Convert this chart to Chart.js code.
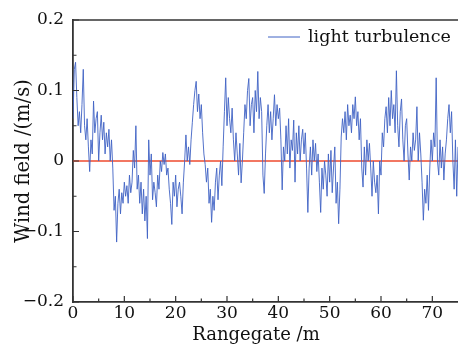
<!DOCTYPE html>
<html>
<head>
<meta charset="utf-8">
<script src="https://cdn.jsdelivr.net/npm/chart.js@4"></script>
<style>
html, body { margin: 0; padding: 0; background: #fff; }
#wrap { width: 458px; height: 346px; }
</style>
</head>
<body>
<div id="wrap"><canvas id="c"></canvas></div>
<script>
// Rangegate sampling (m) and wind field (m/s)
const step = 0.25;
const windField = [
  0.06, 0.13, 0.14, 0.09,   0.05, 0.07, 0.04, 0.08,   0.13, 0.05, 0.03, 0.06,
  0.02, -0.015, 0.03, 0.01, 0.085, 0.04, 0.06, 0.07,  0.0, 0.04, 0.065, 0.03,
  0.055, 0.01, 0.04, 0.02,  0.045, 0.0, 0.03, -0.01,  -0.07, -0.05, -0.115, -0.06,
  -0.04, -0.075, -0.045, -0.06, -0.03, -0.05, -0.035, -0.06, -0.02, -0.045, -0.03, 0.015,
  -0.01, 0.05, -0.04, -0.02, -0.06, -0.03, -0.075, -0.04, -0.085, -0.05, -0.11, 0.03,
  -0.02, 0.01, -0.055, -0.03, -0.045, -0.065, -0.02, -0.04, 0.0, -0.015, 0.012, -0.005,
  0.01, -0.02, -0.01, -0.04, -0.06, -0.09, -0.03, -0.05, -0.02, -0.065, -0.04, -0.03,
  -0.05, -0.075, -0.03, 0.0, 0.037, 0.0, 0.02, -0.005, 0.03, 0.055, 0.08, 0.1,
  0.113, 0.07, 0.095, 0.06, 0.08, 0.04, 0.01, -0.005, -0.03, -0.01, -0.06, -0.04,
  -0.087, -0.05, -0.07, -0.03, -0.01, -0.055, -0.02, 0.0, -0.035, 0.02, 0.07, 0.118,
  0.05, 0.09, 0.06, 0.04,   0.075, 0.03, 0.0, 0.04,   0.01, -0.02, 0.025, -0.031,
  0.0, 0.04, 0.08, 0.06,    0.1, 0.117, 0.05, 0.08,   0.09, 0.04, 0.1, 0.07,
  0.127, 0.06, 0.09, 0.07,  -0.02, -0.046, 0.01, 0.05, 0.08, 0.04, 0.07, 0.03,
  0.06, 0.094, 0.05, 0.08,  0.06, 0.075, 0.03, -0.041, 0.02, 0.0, 0.05, 0.01,
  0.06, -0.01, 0.03, 0.015, 0.058, -0.03, 0.04, 0.01, 0.05, 0.0, 0.03, 0.045,
  0.01, 0.04, -0.01, -0.073, -0.01, 0.02, -0.02, 0.03, 0.0, 0.025, -0.015, 0.01,
  -0.03, -0.073, -0.01, -0.04, 0.0, -0.02, -0.05, 0.01, -0.03, 0.015, -0.045, -0.01,
  0.02, -0.06, -0.03, -0.089, -0.04, 0.034, 0.06, 0.04, 0.07, 0.03, 0.08, 0.05,
  0.065, 0.04, 0.08, 0.06,  0.091, 0.05, 0.07, 0.03,  0.06, -0.01, -0.037, 0.02,
  -0.02, 0.03, 0.0, 0.025,  -0.01, -0.05, 0.0, -0.03, -0.045, -0.02, -0.075, 0.0,
  -0.02, 0.04, 0.02, 0.06,  0.077, 0.04, 0.09, 0.05,  0.1, 0.06, 0.08, 0.04,
  0.128, 0.05, 0.02, 0.07,  0.088, 0.03, 0.0, 0.05,   0.06, 0.01, -0.027, 0.02,
  0.0, 0.04, 0.015, 0.03,   0.077, 0.0, 0.04, 0.01,   -0.03, -0.084, -0.04, -0.06,
  -0.02, -0.07, -0.01, 0.03, 0.0, 0.04, 0.02, 0.118,  0.0, -0.02, 0.03, -0.01,
  0.02, -0.027, 0.01, 0.03, 0.06, 0.08, 0.04, 0.07,   0.0, -0.04, 0.03, -0.05,
  0.02
];
const zeroLineX = [0, 75];
const zeroLineY = [0, 0];
const xTicks = [0, 10, 20, 30, 40, 50, 60, 70];
const xMinorTicks = [5, 15, 25, 35, 45, 55, 65];
const yTicks = [-0.2, -0.1, 0, 0.1, 0.2];
const yMinorTicks = [-0.15, -0.05, 0.05, 0.15];
const xTitle = 'Rangegate /m';

const serif = '"DejaVu Serif", serif';
const axisColor = '#333';

const windPoints = windField.map((v, i) => ({ x: i * step, y: v }));
const zeroPoints = zeroLineX.map((x, i) => ({ x: x, y: zeroLineY[i] }));

// ticks pointing inwards, top frame line, x title and the legend
const framePlugin = {
  id: 'frame',
  afterDraw(chart) {
    const ctx = chart.ctx;
    const a = chart.chartArea;
    const xs = chart.scales.x, ys = chart.scales.y;
    ctx.save();
    ctx.strokeStyle = axisColor;
    ctx.lineWidth = 1.5;
    ctx.beginPath();
    ctx.moveTo(a.left, a.top);
    ctx.lineTo(a.right, a.top);
    ctx.stroke();
    ctx.lineWidth = 1.2;
    ctx.beginPath();
    xTicks.forEach(v => { const p = xs.getPixelForValue(v); ctx.moveTo(p, a.bottom); ctx.lineTo(p, a.bottom - 6); });
    xMinorTicks.forEach(v => { const p = xs.getPixelForValue(v); ctx.moveTo(p, a.bottom); ctx.lineTo(p, a.bottom - 3.5); });
    yTicks.forEach(v => { const p = ys.getPixelForValue(v); ctx.moveTo(a.left, p); ctx.lineTo(a.left + 6, p); });
    yMinorTicks.forEach(v => { const p = ys.getPixelForValue(v); ctx.moveTo(a.left, p); ctx.lineTo(a.left + 3.5, p); });
    ctx.stroke();

    ctx.fillStyle = '#111';
    ctx.font = '18px ' + serif;
    ctx.textBaseline = 'middle';
    ctx.textAlign = 'center';
    ctx.fillText(xTitle, 256, 335);

    // legend
    const ds = chart.data.datasets[0];
    ctx.strokeStyle = ds.borderColor;
    ctx.lineWidth = 1;
    ctx.beginPath();
    ctx.moveTo(268, 37);
    ctx.lineTo(300, 37);
    ctx.stroke();
    ctx.font = '17.5px ' + serif;
    ctx.textAlign = 'left';
    ctx.fillText(ds.label, 308, 37);
    ctx.restore();
  }
};

new Chart(document.getElementById('c'), {
  type: 'line',
  data: {
    datasets: [
      {
        label: 'light turbulence',
        data: windPoints,
        borderColor: '#3f62c4',
        borderWidth: 0.9,
        pointRadius: 0,
        tension: 0
      },
      {
        label: 'zero',
        data: zeroPoints,
        borderColor: '#ee4a2e',
        borderWidth: 1.5,
        pointRadius: 0
      }
    ]
  },
  options: {
    responsive: true,
    maintainAspectRatio: false,
    animation: false,
    layout: { padding: { top: 20, right: 0, left: 0, bottom: 0 } },
    plugins: {
      legend: { display: false },
      tooltip: { enabled: false }
    },
    scales: {
      x: {
        type: 'linear',
        min: 0,
        max: 75,
        afterBuildTicks: s => { s.ticks = xTicks.map(v => ({ value: v })); },
        afterFit: s => { s.height = 44; },
        grid: { display: false, drawTicks: false },
        border: { display: true, color: axisColor, width: 1.8 },
        ticks: {
          color: '#111',
          font: { family: serif, size: 17 },
          padding: 1,
          maxRotation: 0
        }
      },
      y: {
        min: -0.2,
        max: 0.2,
        afterBuildTicks: s => { s.ticks = yTicks.map(v => ({ value: v })); },
        afterFit: s => { s.width = 73; },
        grid: { display: false, drawTicks: false },
        border: { display: true, color: axisColor, width: 1.8 },
        ticks: {
          color: '#111',
          font: { family: serif, size: 17 },
          padding: 9,
          callback: v => v === 0 ? '0' : (v < 0 ? '\u2212' + Math.abs(v).toFixed(1) : v.toFixed(1))
        },
        title: {
          display: true,
          text: 'Wind field /(m/s)',
          color: '#111',
          font: { family: serif, size: 19.5 },
          padding: { top: 12, bottom: 0 }
        }
      }
    }
  },
  plugins: [framePlugin]
});
</script>
</body>
</html>
